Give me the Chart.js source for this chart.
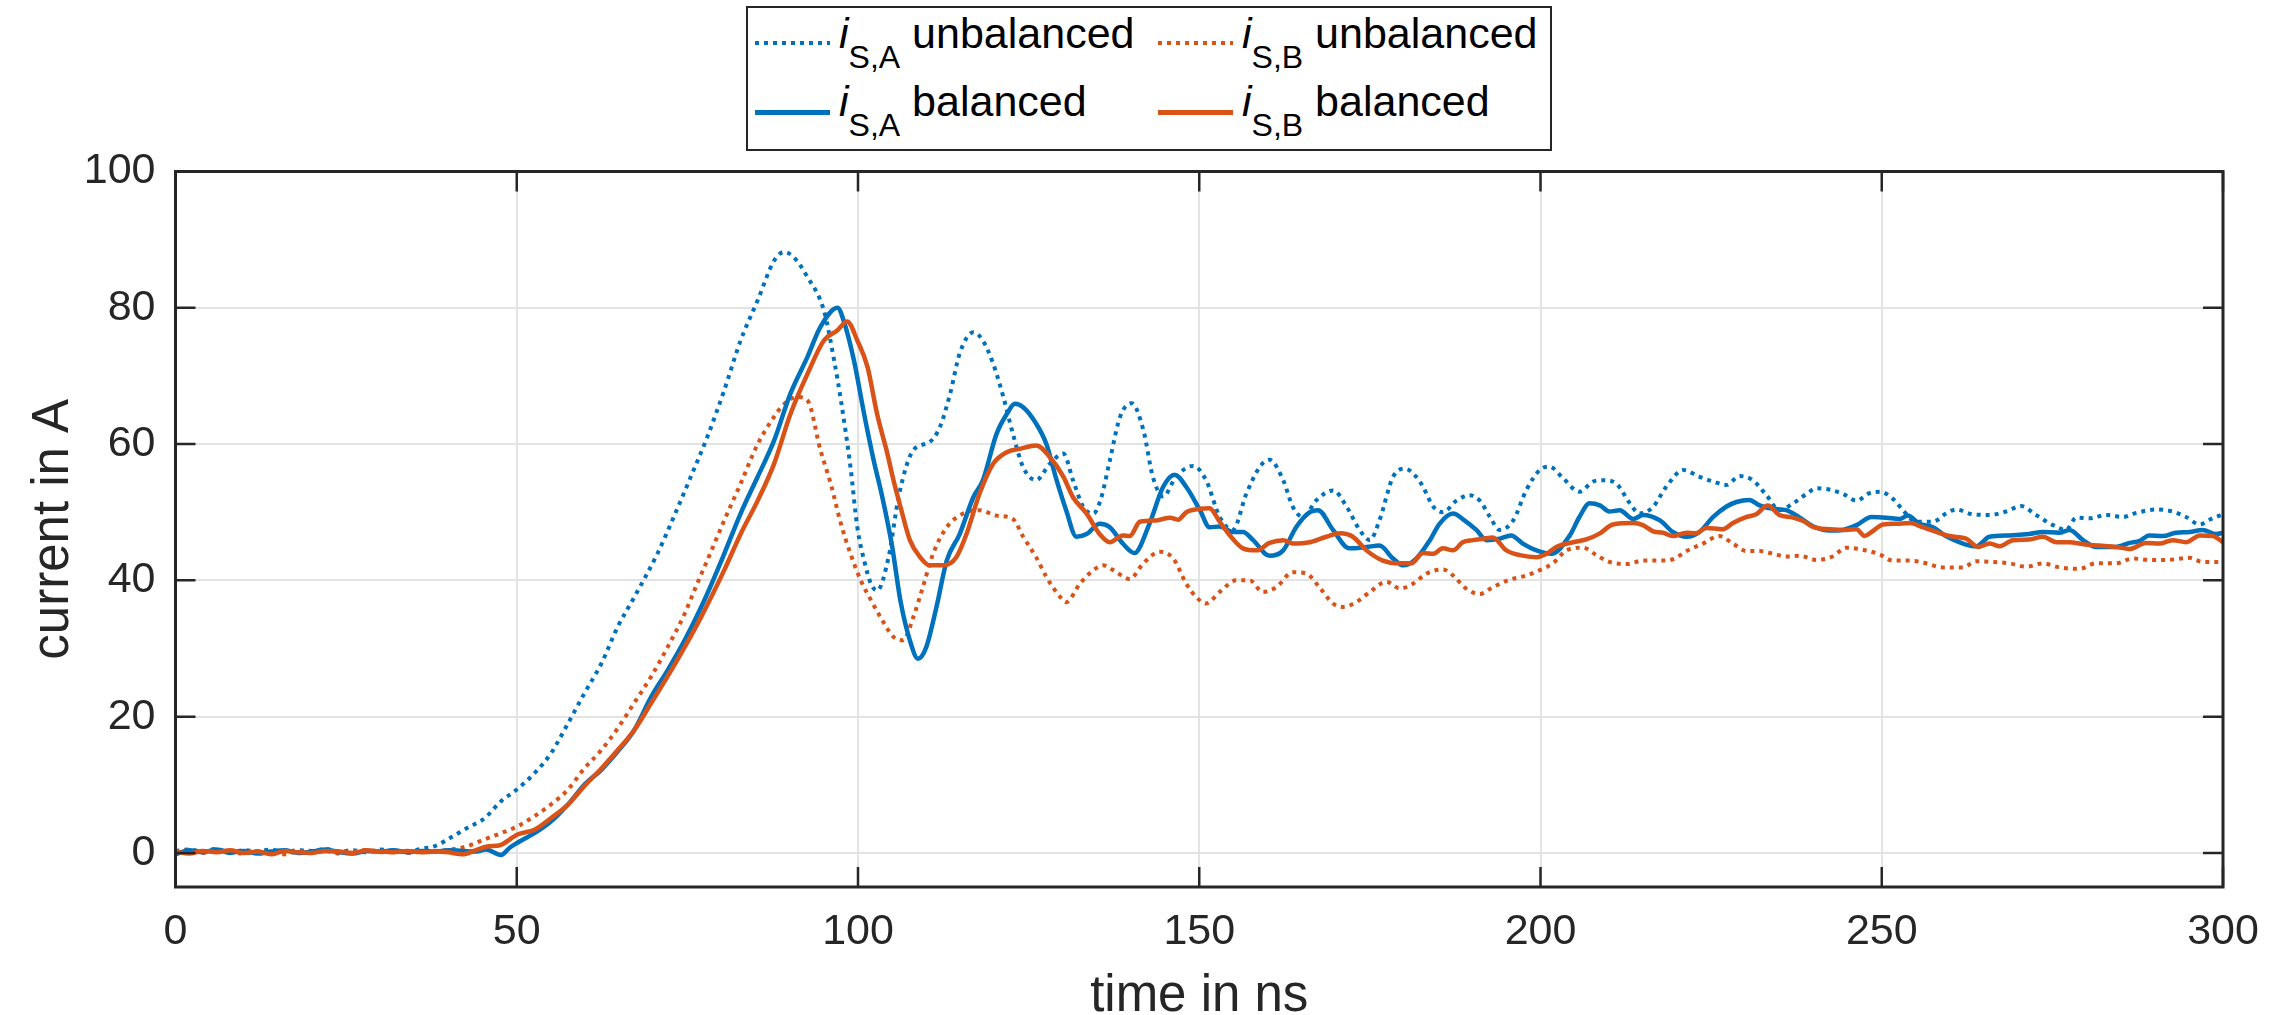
<!DOCTYPE html>
<html>
<head>
<meta charset="utf-8">
<script src="https://cdn.jsdelivr.net/npm/chart.js@4/dist/chart.umd.min.js"></script>
<style>
  body { margin: 0; background: #fff; }
  #wrap { position: relative; width: 2290px; height: 1015px; }
  .leg { position: absolute; font-family: "Liberation Sans", Arial, sans-serif; color: #000; }
  .box { left: 746px; top: 6px; width: 806px; height: 145px; border: 2px solid #262626; background: #fff; box-sizing: border-box; }
  .txt { font-size: 43px; line-height: 43px; white-space: nowrap; }
  .txt i { font-style: italic; }
  .txt .sub { font-size: 32px; position: relative; top: 20px; }
  .dot { height: 4px; }
  .solid { height: 5px; }
</style>
</head>
<body>
<div id="wrap">
  <canvas id="grafico" width="2290" height="1015"></canvas>
  <div class="leg box"></div>
  <div class="leg dot" style="left:755px;top:41px;width:75px;background:repeating-linear-gradient(90deg,#0072BD 0 4px,transparent 4px 9px)"></div>
  <div class="leg txt" style="left:839px;top:12px"><i>i</i><span class="sub">S,A</span> unbalanced</div>
  <div class="leg dot" style="left:1158px;top:41px;width:75px;background:repeating-linear-gradient(90deg,#D95319 0 4px,transparent 4px 9px)"></div>
  <div class="leg txt" style="left:1242px;top:12px"><i>i</i><span class="sub">S,B</span> unbalanced</div>
  <div class="leg solid" style="left:755px;top:110px;width:75px;background:#0072BD"></div>
  <div class="leg txt" style="left:839px;top:80px"><i>i</i><span class="sub">S,A</span> balanced</div>
  <div class="leg solid" style="left:1158px;top:110px;width:75px;background:#D95319"></div>
  <div class="leg txt" style="left:1242px;top:80px"><i>i</i><span class="sub">S,B</span> balanced</div>
</div>
<script>
const AZUL = '#0072BD';
const LARANJA = '#D95319';
const FONTE = '"Liberation Sans", Arial, sans-serif';

const xTicks = [0, 50, 100, 150, 200, 250, 300];
const yTicks = [0, 20, 40, 60, 80, 100];

// i_S,A unbalanced (dotted blue)
const tA_unb = [0,2,4,6,8,10,12,14,16,18,20,22,24,26,28,30,32,34,36,38,40.4,42.8,45.3,47.7,50,52.6,55,57.5,59.9,62.4,64.8,67.2,70.6,73,75.5,77.9,80.4,82.8,85.3,87.7,89.2,90.6,92.6,95,96.5,97.5,98.9,99.9,100.9,101.9,102.8,104.5,106,108.1,110.5,112,113.5,114.9,116.9,118.3,119.8,121.3,122.7,124.2,126.1,128.1,130.1,131.5,133,134.5,135.6,136.9,138.4,140.1,141.8,143.2,144.7,146.6,149.1,151,153,154.9,156.9,158.9,160.3,162.3,163.7,165.2,167.2,169.6,171.6,173.5,175,176.4,178.4,180.1,181.8,182.8,184.3,185.7,187.7,189.6,191.1,192.6,194,196,197.9,199.9,201.3,203.3,205.7,207.7,209.2,211.1,213.1,214.5,216.5,218.4,220.9,223.3,225.3,227.2,229.2,231.1,233.1,235,237,239,240.4,242.4,244.3,246.3,248.2,249.7,251.6,253.1,255,257.5,259.4,260.9,263.3,265.8,268.2,270.4,272.6,275.1,277,278.5,280.4,282.9,285.3,287.3,290.2,292.6,294.6,296.6,298,300];
const iA_unb = [0.3,0.5,0.2,0.6,0.1,0.4,0.2,0.5,0.1,0.4,0.3,0.6,0.2,0.4,0.1,0.5,0.3,0.2,0.6,1.0,2.3,3.7,5.1,7.6,9.3,11.7,14.6,19,23.4,27.8,33.2,37.5,43.9,49.3,55.2,61,67.9,75.2,81.1,86.9,88.2,87.4,84.5,79.6,72.3,66.4,56.6,47.8,42.9,39.5,38.5,43.5,52.5,59.1,60.3,62.5,67.4,73.3,76.4,75.2,71.8,66.9,61.5,56.6,54.7,57.1,58.6,54.7,50.8,49.8,52,57.6,64,66,62.1,55.2,52.3,55.2,56.8,54.7,49.3,47.4,52.7,56.7,57.7,54.7,50.8,49.3,51.8,53.2,50.8,47.4,45.9,48.8,55.2,56.4,55.2,53.7,50.8,50,51.7,52.5,51.7,49.3,47.4,48.8,53.2,56.2,56.7,55,53,54.5,54.7,54.2,51.3,49.8,50.8,53.7,56.2,55.2,54.5,54,55.3,54.7,52.5,50.3,51.3,52.7,53.5,53.3,52.7,51.7,52.8,53,52,50.3,48.6,48.6,49.8,50.4,49.7,49.6,50.1,50.9,49.6,48.1,47.4,49.2,49.1,49.6,49.3,49.9,50.4,50.1,49.3,48.2,48.9,49.7];

// i_S,B unbalanced (dotted orange)
const tB_unb = [0,2,4,6,8,10,12,14,16,18,20,22,24,26,28,30,32,34,36,38,40.4,42.8,45.3,47.7,50.1,52.6,55,57.5,59.9,62.4,64.8,67.2,69.7,72.1,74.6,76.3,77.9,80.4,82.8,85.3,87.7,89.2,91.1,92.6,94.5,96,97.5,98.9,100.4,101.9,103.3,105.2,106.6,108.1,109.5,111,113,115.4,117.8,120.3,122.7,124.2,126.1,127.6,129.6,130.5,132.5,134.5,135.9,137.4,139.8,141.8,144.2,146.2,148.1,149.6,151,153,155.4,157.4,159.3,161.3,163.7,165.7,167.6,169.6,171.1,173,175,177.4,179.4,181.3,183.3,185.7,187.2,189.1,191.1,193,195.5,197.9,199.9,201.8,203.8,206.2,208.2,210.1,212.6,215,217.5,219.4,221.4,223.8,226.2,228.2,230.2,232.1,234.1,236,238,240.4,242.8,244.8,247.2,249.7,251.6,254.1,256.5,258.9,261.9,263.8,266.3,268.7,271.2,273.6,276,279,281.4,284.3,286.8,289.2,291.7,295.1,297,300];
const iB_unb = [0.1,0.4,0,0.3,0.2,-0.1,0.3,0.1,-0.2,0.2,0,0.3,-0.1,0.2,0.4,0.1,0.3,0,0.2,0.3,0.5,1,2,2.9,3.9,5.4,7.1,9.3,12.4,15.1,18.3,22,25.9,30.2,35.1,39.2,42.9,48.8,54.2,60,64,65.9,66.9,66.4,59.1,54.2,48.3,43.9,40,37.1,34.6,31.7,31.2,34.6,39,43.9,47.8,49.8,50.3,49.5,49,46.4,43.4,40.5,37.6,36.8,39.5,41.5,42.2,41.5,40.2,42.5,44.2,43.2,39.5,37.5,36.6,38.3,40,40,38.3,39,41.2,41,39,36.6,36.1,36.8,38.3,39.8,38.8,39.5,41,41.6,40.7,38.8,38,39,40.1,40.7,41.5,42.5,44.4,44.8,43.7,42.7,42.4,42.9,42.9,43.1,44.3,45.4,46.5,45.4,44.3,44.3,43.9,43.5,43.6,43,43.5,44.8,44.5,43.8,42.9,42.9,42.5,41.9,41.9,42.8,42.7,42.5,42,42.5,41.9,41.7,42.5,42.5,43.2,43,43,43.3,42.7,42.7];

// i_S,A balanced (solid blue)
const tA_bal = [0,2,4,6,8,10,12,14,16,18,20,22,24,26,28,30,32,34,36,38,40,42,44,45.5,47.7,49,50.1,52.6,55,57.5,59.9,62.4,64.8,67.2,69.7,72.1,74.6,76.8,77.9,80.4,82.8,85.3,87.7,90.1,92.6,94.5,97,97.9,99.4,100.9,102.3,103.5,105,106.2,107.6,108.8,110,111.5,113,114.9,116.9,118.3,120.3,121.8,123,124.2,126.1,127.6,129.1,130.5,132,133.5,135.4,136.9,138.8,140.5,142.7,144.7,146.4,148.1,150.1,151.5,153,154.9,156.4,157.9,160.3,162.3,164.2,166.2,167.4,169.6,172,174.5,176.4,178.4,179.9,181.8,183.8,185.2,187.2,188.6,190.6,192.1,194,195.7,197.4,199.4,201.6,204.3,205.7,207.2,208.7,210.1,211.6,213.6,215,217.5,219.4,221.4,223.3,225.3,227.2,228.7,230.6,232.1,234.1,236,238,240,242.4,244.3,246.3,248.5,250.7,252.6,253.8,255.5,257.5,259.4,261.9,263.8,265.8,268.7,271.6,273.6,276,277.5,279.5,281.4,284.3,286.3,287.8,289.2,291.2,293.1,295.1,297,299,300];
const iA_bal = [-0.2,0.4,0.1,0.5,0,0.3,-0.1,0.2,0.4,0,0.2,0.5,0.1,-0.1,0.3,0.2,0.4,0.1,0.3,0.2,0.4,0.3,0.2,0.5,-0.3,0.8,1.5,2.9,4.6,7.1,10,12.2,14.9,18,22.9,26.8,31.2,35.6,38,43.9,49.8,55.2,60.5,67.4,72.8,77.2,80,78.1,72.3,64.4,57.6,52.5,45,37.1,31.2,28.5,30.2,36.1,42.9,46.8,52.2,54.7,61.5,64.4,65.9,65.4,63,60,54.7,50.3,46.4,46.8,48.3,47.8,45.4,44,48.3,53.7,55.5,53.7,50.3,47.8,47.9,47.1,47.1,45.9,43.6,44.4,47.8,50,50.3,47.4,44.7,44.9,45.1,43.2,42.2,43.2,45.9,48.3,49.8,49,47.4,45.9,46.1,46.6,45.4,44.4,43.9,46.6,49.3,51.3,51,50.1,50.3,49,49.6,48.8,47.1,46.4,47.1,49.3,50.8,51.5,51.8,51,50.5,50.3,49.2,47.9,47.3,47.4,48.1,49.3,49.2,49,49.5,48.3,47.8,46.5,45.4,45,46.4,46.6,46.8,47.1,47,47.4,45.9,44.9,44.9,45.5,45.8,46.6,46.5,47,47.1,47.4,46.8,47];

// i_S,B balanced (solid orange)
const tB_bal = [0,2,4,6,8,10,12,14,16,18,20,22,24,26,28,30,32,34,36,38,40,42,44,45.5,47.7,50.1,52.6,55,57.5,59.9,62.4,64.8,67.2,69.7,72.1,74.6,77,80.4,82.8,85.3,87.7,90.1,92.6,95,97,98.4,99.9,101.4,102.8,104.3,105.2,106.3,107.6,109.1,110.5,112.5,114.4,115.9,117.8,119.8,121.8,123.7,126.1,128.1,130.1,131.5,133.5,135.4,136.9,138.8,139.8,141.3,143.7,145.7,146.9,148.1,150.1,151.5,153,154.9,156.4,158.4,160.3,162.3,163.7,166.2,168.6,170.6,172.5,174.5,176.9,179.4,181.1,182.8,184.3,185.7,187.2,188.6,190.1,191.6,193,195,197,199.4,200.9,202.3,205.3,206.7,208.7,210.6,213.6,215,216.5,217.9,219.4,221.4,222.8,224.3,226.7,228.2,230.2,231.6,233.3,235,237,238.5,240,242.4,244.8,246.3,247.5,248.5,250.2,252.1,254.1,256,258,260,262.4,264.1,265.8,267.3,269.2,271.6,273.6,275.6,277.5,279.5,281.9,284.3,286.3,288.7,290.7,292.6,294.6,296.6,298.5,300];
const iB_bal = [0.2,-0.1,0.3,0.1,0.4,0,0.2,-0.2,0.3,0.1,0,0.3,0.2,0,0.4,0.2,0.1,0.3,0.1,0.2,0.1,-0.2,0.4,0.9,1.2,2.7,3.4,5.1,7.1,9.8,12.4,15.1,18,22,25.9,30.2,34.6,41.5,46.8,51.7,57.1,64.4,70.3,75.2,76.7,78,75.2,71.3,64.4,58.6,54.7,50.5,45.9,43.4,42.2,42.2,43.4,46.8,52.7,57.1,58.8,59.3,59.8,58.1,55.2,52.2,49.8,46.8,45.6,46.6,46.5,48.6,48.8,49.2,48.9,50,50.5,50.6,48.6,46.1,44.7,44.4,45.5,45.9,45.4,45.6,46.4,46.9,46.4,44.4,42.9,42.5,42.5,44,43.9,44.7,44.4,45.6,45.9,46.1,46.3,44.4,43.7,43.4,43.9,44.9,45.7,46,46.9,48.2,48.4,48.1,47.2,47,46.5,47,46.9,47.7,47.5,48.4,49.3,49.7,51,49.6,49.2,48.7,47.8,47.5,47.4,47.5,46.5,47.1,48.2,48.3,48.4,47.8,47.1,46.5,46.1,44.9,45.4,45,45.9,46,46.4,45.6,45.6,45.3,45.1,44.9,44.6,45.5,45.4,45.9,45.6,46.6,46.5,45.6];

const pontos = (t, v) => t.map((x, i) => ({x: x, y: v[i]}));

// caixa do eixo com ticks para dentro (estilo MATLAB)
const caixaPlugin = {
    id: 'caixa',
    afterDatasetsDraw(chart) {
        const {ctx, chartArea: a, scales} = chart;
        const tl = 20;
        ctx.save();
        ctx.strokeStyle = '#262626';
        ctx.lineWidth = 2.5;
        ctx.beginPath();
        xTicks.forEach(v => {
            const px = scales.x.getPixelForValue(v);
            ctx.moveTo(px, a.bottom); ctx.lineTo(px, a.bottom - tl);
            ctx.moveTo(px, a.top); ctx.lineTo(px, a.top + tl);
        });
        yTicks.forEach(v => {
            const py = scales.y.getPixelForValue(v);
            ctx.moveTo(a.left, py); ctx.lineTo(a.left + tl, py);
            ctx.moveTo(a.right, py); ctx.lineTo(a.right - tl, py);
        });
        ctx.stroke();
        ctx.lineWidth = 3;
        ctx.strokeRect(a.left, a.top, a.right - a.left, a.bottom - a.top);
        ctx.restore();
    }
};

const linha = (label, t, v, cor, pontilhado) => ({
    label: label,
    data: pontos(t, v),
    borderColor: cor,
    borderWidth: pontilhado ? 4 : 4.5,
    borderDash: pontilhado ? [4, 5] : [],
    borderCapStyle: 'butt',
    cubicInterpolationMode: 'monotone',
    pointRadius: 0,
    fill: false
});

new Chart(document.getElementById('grafico'), {
    type: 'line',
    data: {
        // last one is drawn at the bottom
        datasets: [
            linha('iS,B balanced', tB_bal, iB_bal, LARANJA, false),
            linha('iS,A balanced', tA_bal, iA_bal, AZUL, false),
            linha('iS,B unbalanced', tB_unb, iB_unb, LARANJA, true),
            linha('iS,A unbalanced', tA_unb, iA_unb, AZUL, true)
        ]
    },
    options: {
        responsive: false,
        animation: false,
        layout: { padding: { top: 171.5, right: 67, left: 0, bottom: 0 } },
        plugins: { legend: { display: false }, tooltip: { enabled: false } },
        scales: {
            x: {
                type: 'linear',
                min: 0,
                max: 300,
                afterFit: s => { s.height = 128; },
                afterBuildTicks: s => { s.ticks = xTicks.map(v => ({value: v})); },
                grid: { color: '#e3e3e3', lineWidth: 2, drawTicks: false },
                border: { display: false },
                ticks: { padding: 19, color: '#262626', font: { family: FONTE, size: 43 } },
                title: { display: true, text: 'time in ns', color: '#262626', font: { family: FONTE, size: 51, lineHeight: 0.7 }, padding: { top: 0, bottom: 0 } }
            },
            y: {
                min: -5,
                max: 100,
                afterFit: s => { s.width = 175.5; },
                afterBuildTicks: s => { s.ticks = yTicks.map(v => ({value: v})); },
                grid: { color: '#e3e3e3', lineWidth: 2, drawTicks: false },
                border: { display: false },
                ticks: { padding: 20, color: '#262626', font: { family: FONTE, size: 43 } },
                title: { display: true, text: 'current in A', color: '#262626', font: { family: FONTE, size: 51, lineHeight: 1.2 }, padding: { top: 23, bottom: 0 } }
            }
        }
    },
    plugins: [caixaPlugin]
});
</script>
</body>
</html>
